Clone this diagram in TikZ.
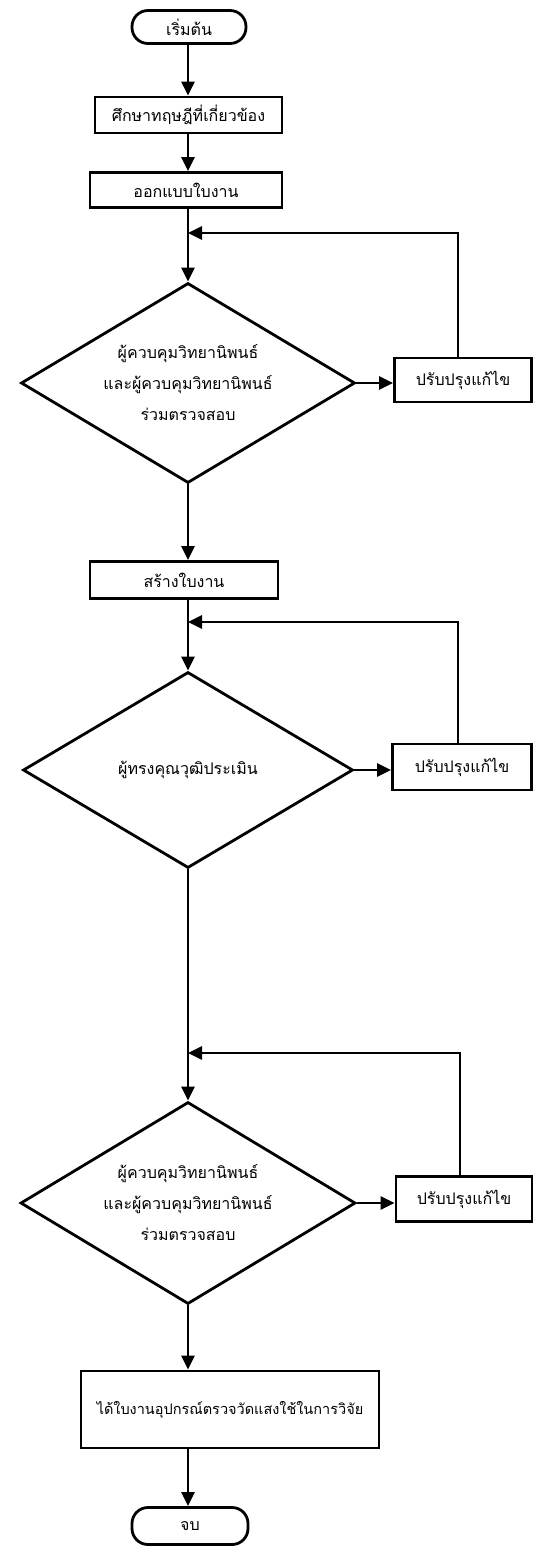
\documentclass[tikz,border=0pt]{standalone}
\usepackage{fontspec}
\setmainfont[Script=Thai]{Loma}
\usetikzlibrary{shapes.geometric,arrows.meta}
\begin{document}
\begin{tikzpicture}[x=1pt,y=-1pt,
  lw/.style={line width=2.8pt},
  txt/.style={font=\fontsize{16}{31}\selectfont},
  box/.style={draw, lw, rectangle, inner sep=0pt, txt, align=center},
  term/.style={box, rounded corners=16pt},
  dec/.style={draw, lw, diamond, aspect=1.67, inner sep=0pt, align=center, txt},
  arr/.style={lw, -{Triangle[length=14pt,width=13pt]}},
  ln/.style={lw}]
\useasboundingbox (0,0) rectangle (535,1547);
\fill[white] (0,0) rectangle (535,1547);

\node[term, minimum width=114pt, minimum height=33pt] (start) at (189,27) {เริ่มต้น};
\node[box, minimum width=187pt, minimum height=36pt] (s1) at (188.5,115) {ศึกษาทฤษฎีที่เกี่ยวข้อง};
\node[box, minimum width=192pt, minimum height=35pt] (s2) at (186,190) {ออกแบบใบงาน};
\node[dec, minimum width=334pt, minimum height=200pt] (d1) at (188,383) {ผู้ควบคุมวิทยานิพนธ์\\และผู้ควบคุมวิทยานิพนธ์\\ร่วมตรวจสอบ};
\node[box, minimum width=137pt, minimum height=44pt] (r1) at (463,380) {ปรับปรุงแก้ไข};
\node[box, minimum width=188pt, minimum height=37pt] (s3) at (184,580) {สร้างใบงาน};
\node[dec, minimum width=330pt, minimum height=196pt] (d2) at (188,770) {ผู้ทรงคุณวุฒิประเมิน};
\node[box, minimum width=139pt, minimum height=46pt] (r2) at (462,767) {ปรับปรุงแก้ไข};
\node[dec, minimum width=335pt, minimum height=202pt] (d3) at (188,1203) {ผู้ควบคุมวิทยานิพนธ์\\และผู้ควบคุมวิทยานิพนธ์\\ร่วมตรวจสอบ};
\node[box, minimum width=136pt, minimum height=45pt] (r3) at (464,1199) {ปรับปรุงแก้ไข};
\node[box, minimum width=298pt, minimum height=77pt, font=\fontsize{14.5}{18}\selectfont] (s4) at (230,1409.5) {ได้ใบงานอุปกรณ์ตรวจวัดแสงใช้ในการวิจัย};
\node[term, minimum width=116pt, minimum height=37pt] (end) at (190,1526) {จบ};

\coordinate (f1) at (188,233);
\coordinate (f2) at (188,622);
\coordinate (f3) at (188,1053);

\draw[arr] (start.south -| 188,0) -- (188,0 |- s1.north);
\draw[arr] (188,0 |- s1.south) -- (188,0 |- s2.north);
\draw[arr] (188,0 |- s2.south) -- (d1.north);
\draw[arr] (d1.east) -- (d1.east -| r1.west);
\draw[arr] (r1.north -| 458,0) |- (f1);
\draw[arr] (d1.south) -- (188,0 |- s3.north);
\draw[arr] (188,0 |- s3.south) -- (d2.north);
\draw[arr] (d2.east) -- (d2.east -| r2.west);
\draw[arr] (r2.north -| 458,0) |- (f2);
\draw[arr] (d2.south) -- (d3.north);
\draw[arr] (d3.east) -- (d3.east -| r3.west);
\draw[arr] (r3.north -| 460,0) |- (f3);
\draw[arr] (d3.south) -- (188,0 |- s4.north);
\draw[arr] (188,0 |- s4.south) -- (188,0 |- end.north);
\end{tikzpicture}
\end{document}
